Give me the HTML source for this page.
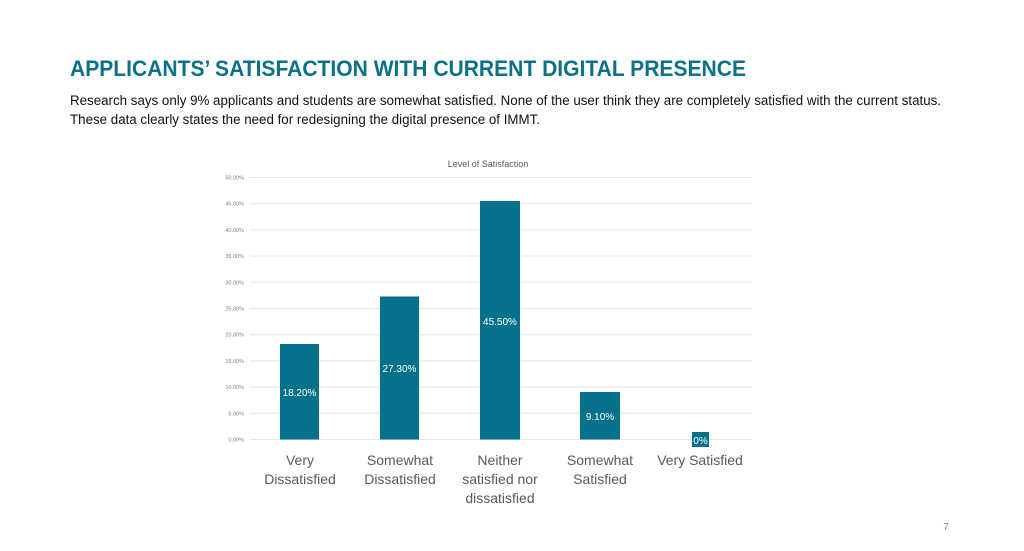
<!DOCTYPE html>
<html><head><meta charset="utf-8"><style>
html,body{margin:0;padding:0;background:#fff;}
svg{display:block;}
</style></head><body>
<svg width="1024" height="551" viewBox="0 0 1024 551" xmlns="http://www.w3.org/2000/svg" font-family="Liberation Sans, sans-serif">
<text x="70" y="76" font-size="22" font-weight="bold" fill="#0b7189" textLength="676" lengthAdjust="spacingAndGlyphs">APPLICANTS’ SATISFACTION WITH CURRENT DIGITAL PRESENCE</text>
<text x="70" y="105" font-size="13.5" fill="#111" textLength="871" lengthAdjust="spacingAndGlyphs">Research says only 9% applicants and students are somewhat satisfied. None of the user think they are completely satisfied with the current status.</text>
<text x="70" y="124" font-size="13.5" fill="#111" textLength="470" lengthAdjust="spacingAndGlyphs">These data clearly states the need for redesigning the digital presence of IMMT.</text>
<text x="488" y="167" font-size="9" fill="#595959" text-anchor="middle">Level of Satisfaction</text>
<g stroke="#e6e6e6" stroke-width="1">
<line x1="250" x2="752" y1="177.5" y2="177.5"/><line x1="250" x2="752" y1="203.7" y2="203.7"/>
<line x1="250" x2="752" y1="229.9" y2="229.9"/><line x1="250" x2="752" y1="256.1" y2="256.1"/>
<line x1="250" x2="752" y1="282.3" y2="282.3"/><line x1="250" x2="752" y1="308.5" y2="308.5"/>
<line x1="250" x2="752" y1="334.7" y2="334.7"/><line x1="250" x2="752" y1="360.9" y2="360.9"/>
<line x1="250" x2="752" y1="387.1" y2="387.1"/><line x1="250" x2="752" y1="413.3" y2="413.3"/>
<line x1="250" x2="752" y1="439.5" y2="439.5"/>
</g>
<g font-size="5.5" fill="#7f7f7f" text-anchor="end">
<text x="244" y="179.5">50.00%</text><text x="244" y="205.7">45.00%</text>
<text x="244" y="231.9">40.00%</text><text x="244" y="258.1">35.00%</text>
<text x="244" y="284.3">30.00%</text><text x="244" y="310.5">25.00%</text>
<text x="244" y="336.7">20.00%</text><text x="244" y="362.9">15.00%</text>
<text x="244" y="389.1">10.00%</text><text x="244" y="415.3">5.00%</text>
<text x="244" y="441.5">0.00%</text>
</g>
<g fill="#06718b">
<rect x="280" y="344" width="39" height="95.5"/>
<rect x="380" y="296.5" width="39" height="143"/>
<rect x="480" y="201" width="40" height="238.5"/>
<rect x="580" y="392" width="40" height="47.5"/>
<rect x="692" y="432" width="17" height="15"/>
</g>
<g font-size="10" fill="#fff" text-anchor="middle">
<text x="299.5" y="396">18.20%</text>
<text x="399.5" y="372">27.30%</text>
<text x="500" y="325">45.50%</text>
<text x="600" y="420">9.10%</text>
<text x="700.5" y="444">0%</text>
</g>
<g font-size="14" fill="#595959" text-anchor="middle">
<text x="300" y="465">Very</text><text x="300" y="484">Dissatisfied</text>
<text x="400" y="465">Somewhat</text><text x="400" y="484">Dissatisfied</text>
<text x="500" y="465">Neither</text><text x="500" y="484">satisfied nor</text><text x="500" y="503">dissatisfied</text>
<text x="600" y="465">Somewhat</text><text x="600" y="484">Satisfied</text>
<text x="700" y="465">Very Satisfied</text>
</g>
<text x="946" y="530" font-size="10" fill="#7f7f7f" text-anchor="middle">7</text>
</svg>
</body></html>
